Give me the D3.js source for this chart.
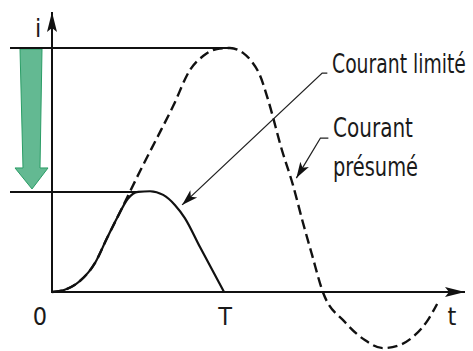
<!DOCTYPE html>
<html>
<head>
<meta charset="utf-8">
<script src="https://cdn.jsdelivr.net/npm/d3@7"></script>
<style>
  html, body { margin: 0; padding: 0; background: #fff; }
  svg { display: block; }
  text { font-family: "Liberation Sans Narrow", "Arial Narrow", "DejaVu Sans Condensed", "Liberation Sans", sans-serif; fill: #1a1a1a; }
</style>
</head>
<body>
<script>
// Limited current (solid): time t, current i
const limitedT = [0, 0.35, 0.81, 1.25, 1.60, 1.89, 2.21, 2.50, 2.85, 3.23, 3.57, 3.86, 4.30, 5.0];
const limitedI = [0, 0.8, 4.5, 11.9, 22.1, 30.3, 38.3, 41.0, 41.3, 39.8, 35.7, 30.3, 18.4, 0];

// Prospective current (dashed)
const presumedT = [0, 0.35, 0.81, 1.25, 1.60, 1.89, 2.12, 2.56, 3.05, 3.52, 4.01, 4.39, 4.79, 5.17, 5.55, 5.81, 6.04, 6.28, 6.68, 7.0, 7.29, 7.55, 7.87, 8.51, 9.09, 9.62, 10.11, 10.55, 10.92, 11.19];
const presumedI = [0, 0.8, 4.5, 11.9, 22.1, 30.3, 36.9, 49.6, 63.1, 76.2, 91.0, 96.7, 99.6, 100, 98.0, 94.3, 88.9, 78.7, 58.2, 43.9, 28.5, 15.5, 0, -12.3, -19.7, -23.0, -21.7, -17.6, -11.5, -4.9];

// Reference levels: prospective peak and limited peak
const levelValues = [100, 41];
const levelEnds = [5.25, 2.5];

// Axis labels and curve labels
const tickLabels = ["0", "T"];
const tickValues = [0, 5.0];
const axisNames = ["i", "t"];
const curveLabels = ["Courant limité", "Courant", "présumé"];

const W = 473, H = 351;
const x = d3.scaleLinear().domain([0, 12]).range([52, 465]);
const y = d3.scaleLinear().domain([0, 100]).range([292, 48]);
const yTop = 114.8, tLeft = -1.22;

const svg = d3.select("body").append("svg").attr("width", W).attr("height", H);

const defs = svg.append("defs");
defs.append("marker").attr("id", "axisHead")
  .attr("viewBox", "-20 -6 21 12").attr("refX", 0).attr("refY", 0)
  .attr("markerUnits", "userSpaceOnUse").attr("markerWidth", 21).attr("markerHeight", 12)
  .attr("orient", "auto")
  .append("path").attr("d", "M0,0 L-20,-5 L-16,0 L-20,5 Z").attr("fill", "#111");
defs.append("marker").attr("id", "leaderHead")
  .attr("viewBox", "-16 -6 17 12").attr("refX", 0).attr("refY", 0)
  .attr("markerUnits", "userSpaceOnUse").attr("markerWidth", 17).attr("markerHeight", 12)
  .attr("orient", "auto")
  .append("path").attr("d", "M0,0 L-16,-5 L-12,0 L-16,5 Z").attr("fill", "#111");

// Green arrow showing the reduction from prospective to limited peak
const gTop = y(levelValues[0]) + 1, gHead = y(levelValues[1]) - 24, gTip = y(levelValues[1]) - 3;
svg.append("path")
  .attr("d", `M20,${gTop} L42,${gTop} L40,${gHead} L48,${gHead} L32,${gTip} L15,${gHead} L23,${gHead} Z`)
  .attr("fill", "#63b992").attr("stroke", "#2a9d66").attr("stroke-width", 1);

// Horizontal reference levels
svg.selectAll("line.level").data(levelValues).join("line").attr("class", "level")
  .attr("x1", x(tLeft)).attr("x2", (d, k) => x(levelEnds[k]))
  .attr("y1", d => y(d)).attr("y2", d => y(d))
  .attr("stroke", "#111").attr("stroke-width", 2);

// Axes with arrow heads
svg.append("line").attr("x1", x(0)).attr("x2", x(0)).attr("y1", y(0) + 1).attr("y2", y(yTop))
  .attr("stroke", "#111").attr("stroke-width", 2).attr("marker-end", "url(#axisHead)");
svg.append("line").attr("x1", x(0) - 1).attr("x2", x(12)).attr("y1", y(0)).attr("y2", y(0))
  .attr("stroke", "#111").attr("stroke-width", 2).attr("marker-end", "url(#axisHead)");

const line = d3.line().x(d => x(d[0])).y(d => y(d[1])).curve(d3.curveMonotoneX);

// Prospective current (dashed)
svg.append("path").datum(presumedT.map((t, k) => [t, presumedI[k]]))
  .attr("d", line).attr("fill", "none").attr("stroke", "#111")
  .attr("stroke-width", 2.4).attr("stroke-dasharray", "10,5");

// Limited current (solid)
svg.append("path").datum(limitedT.map((t, k) => [t, limitedI[k]]))
  .attr("d", line).attr("fill", "none").attr("stroke", "#111").attr("stroke-width", 2.2);

// Leader lines with arrow heads
svg.append("path")
  .attr("d", `M${x(8.0)},${y(89.7)} L${x(7.85)},${y(89.7)} L${x(3.78)},${y(35.7)}`)
  .attr("fill", "none").attr("stroke", "#222").attr("stroke-width", 1.3)
  .attr("marker-end", "url(#leaderHead)");
svg.append("path")
  .attr("d", `M${x(8.03)},${y(63.1)} L${x(7.8)},${y(63.1)} L${x(7.1)},${y(46.7)}`)
  .attr("fill", "none").attr("stroke", "#222").attr("stroke-width", 1.3)
  .attr("marker-end", "url(#leaderHead)");

// Tick labels
svg.selectAll("text.tick").data(tickLabels).join("text").attr("class", "tick")
  .attr("x", (d, k) => k === 0 ? x(tickValues[k]) - 12 : x(tickValues[k]) + 1)
  .attr("y", 325).attr("text-anchor", "middle").attr("font-size", 25).text(d => d);

// Axis names
svg.append("text").attr("x", 38).attr("y", 37).attr("text-anchor", "middle")
  .attr("font-size", 25).text(axisNames[0]);
svg.append("text").attr("x", 452).attr("y", 325).attr("text-anchor", "middle")
  .attr("font-size", 25).text(axisNames[1]);

// Curve labels: narrow lettering, sized to a target width and stretched to full height
const baseSize = 26;
const labelPos = [[332, 73, 134], [333, 137, 80], [333, 176, 85]];
svg.selectAll("text.lab").data(curveLabels).join("text").attr("class", "lab")
  .attr("font-size", baseSize)
  .text(d => d)
  .each(function (d, k) {
    const natural = this.getComputedTextLength();
    const fs = baseSize * labelPos[k][2] / natural;
    d3.select(this).attr("font-size", fs)
      .attr("transform", `translate(${labelPos[k][0]},${labelPos[k][1]}) scale(1,${baseSize / fs})`);
  });
</script>
</body>
</html>
